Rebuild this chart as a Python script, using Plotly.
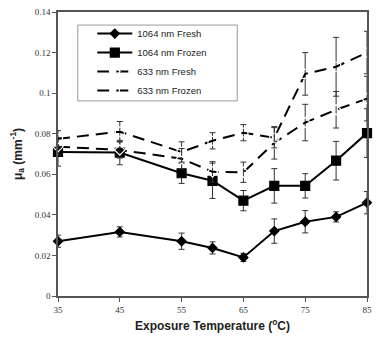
import plotly.graph_objects as go

temps = [35, 45, 55, 60, 65, 70, 75, 80, 85]

fresh_1064 = [0.027, 0.0316, 0.027, 0.0237, 0.019, 0.032, 0.0366, 0.039, 0.046]
fresh_1064_err = [0.003, 0.0025, 0.004, 0.003, 0.002, 0.006, 0.0055, 0.0025, 0.0055]

frozen_1064 = [0.071, 0.0707, 0.0605, 0.0568, 0.047, 0.0543, 0.0543, 0.0667, 0.0803]
frozen_1064_err = [0.007, 0.006, 0.005, 0.0087, 0.005, 0.0085, 0.006, 0.0095, 0.012]

fresh_633 = [0.0736, 0.072, 0.0677, 0.0612, 0.061, 0.0755, 0.0855, 0.0918, 0.0973]
fresh_633_err = [0.004, 0.004, 0.005, 0.005, 0.005, 0.008, 0.009, 0.009, 0.011]

frozen_633 = [0.0775, 0.081, 0.071, 0.0765, 0.0805, 0.078, 0.1095, 0.113, 0.12]
frozen_633_err = [0.004, 0.005, 0.005, 0.004, 0.004, 0.005, 0.0105, 0.0145, 0.0105]

names = ["1064 nm Fresh", "1064 nm Frozen", "633 nm Fresh", "633 nm Frozen"]
x_ticks = [35, 45, 55, 65, 75, 85]

series = [
    (names[0], fresh_1064, fresh_1064_err, "diamond", 7, "solid"),
    (names[1], frozen_1064, frozen_1064_err, "square", 9, "solid"),
    (names[2], fresh_633, fresh_633_err, "diamond-open", 8, "dash"),
    (names[3], frozen_633, frozen_633_err, "square-open", 9, "dash"),
]

fig = go.Figure()
for name, vals, errs, sym, size, dash in series:
    fig.add_trace(go.Scatter(
        x=temps, y=vals, name=name, mode="lines+markers",
        line=dict(color="black", width=2, dash="12px,7px" if dash == "dash" else "solid"),
        marker=dict(symbol=sym, size=size, color="black" if "open" not in sym else "white",
                    line=dict(color="black", width=1.2)),
        error_y=dict(type="data", array=errs, visible=True, color="#333333", thickness=1, width=3),
        cliponaxis=False,
    ))

# legend frame (the reference legend box is wider than Plotly's automatic one)
fig.add_shape(
    type="rect", xref="paper", yref="paper",
    x0=0.064, x1=0.58, y0=0.687, y1=0.954,
    line=dict(color="#999999", width=1), fillcolor="white", layer="below",
)

fig.update_layout(
    width=379, height=343,
    margin=dict(l=58, r=7, t=12, b=47),
    paper_bgcolor="white", plot_bgcolor="white",
    showlegend=True,
    legend=dict(
        x=0.111, y=0.975, xanchor="left", yanchor="top",
        bgcolor="rgba(0,0,0,0)", borderwidth=0,
        font=dict(family="Liberation Sans, Arial", size=9.5, color="#222222"),
        tracegroupgap=0, itemwidth=35,
    ),
    font=dict(family="Liberation Serif, Times New Roman", size=9, color="#333333"),
)
fig.update_xaxes(
    range=[35, 85], tickvals=x_ticks, ticktext=[str(t) for t in x_ticks],
    showgrid=False, zeroline=False, showline=True, linecolor="#555555", linewidth=1.5,
    ticks="outside", ticklen=4, tickcolor="#555555", mirror=True,
    tickfont=dict(family="Liberation Serif, Times New Roman", size=9, color="#333333"),
    title=dict(text="<b>Exposure Temperature (<sup>o</sup>C)</b>",
               font=dict(family="Liberation Sans, Arial", size=12, color="#222222"), standoff=8),
)
fig.update_yaxes(
    range=[0, 0.14], dtick=0.02, tick0=0,
    showgrid=False, zeroline=False, showline=True, linecolor="#555555", linewidth=1.5,
    ticks="outside", ticklen=4, tickcolor="#555555", mirror=True,
    tickfont=dict(family="Liberation Serif, Times New Roman", size=9, color="#333333"),
    title=dict(text="<b>μ<sub>a</sub> (mm<sup>-1</sup>)</b>",
               font=dict(family="Liberation Sans, Arial", size=12, color="#222222"), standoff=10),
)

fig.write_html(
    "out.html",
    config={"displayModeBar": False},
    post_script="document.body.style.margin='0';document.body.style.overflow='hidden';",
)
